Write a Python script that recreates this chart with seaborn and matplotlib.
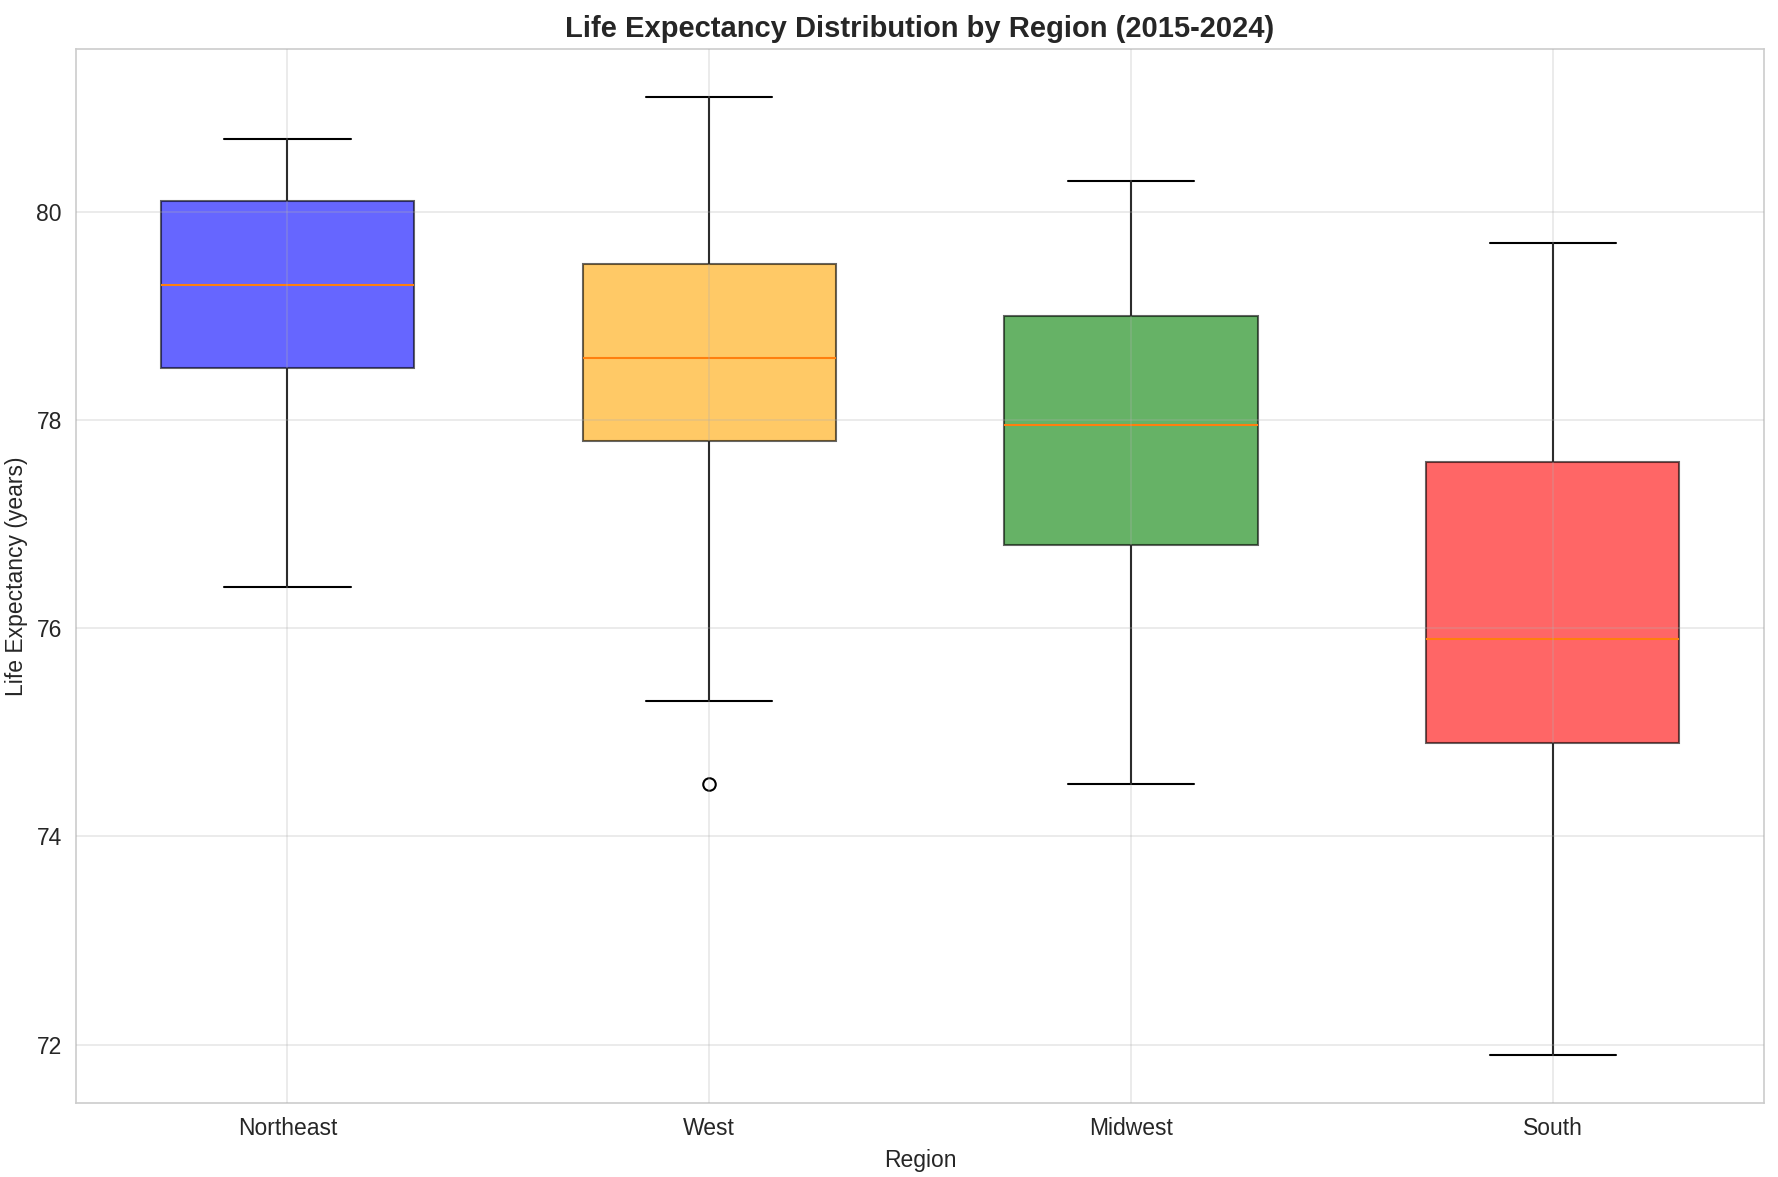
import numpy as np
import pandas as pd
import seaborn as sns
import matplotlib.pyplot as plt
from matplotlib.colors import to_rgba

# Life expectancy per region, 2015-2024
years = list(range(2015, 2025))
regions = ['Northeast', 'West', 'Midwest', 'South']
northeast = [76.4, 77.9, 78.4, 78.8, 79.1, 79.5, 79.8, 80.2, 80.5, 80.7]
west = [74.5, 75.3, 77.6, 78.4, 78.5, 78.7, 79.2, 79.6, 80.3, 81.1]
midwest = [74.5, 75.9, 76.6, 77.4, 77.8, 78.1, 78.4, 79.2, 79.6, 80.3]
south = [71.9, 73.8, 74.6, 75.8, 75.8, 76.0, 77.0, 77.8, 78.6, 79.7]
box_colors = ['blue', 'orange', 'green', 'red']

df = pd.DataFrame({
    'Region': np.repeat(regions, len(years)),
    'Year': years * len(regions),
    'Life Expectancy': northeast + west + midwest + south,
})

sns.set_style('whitegrid')
plt.rcParams['font.family'] = ['Liberation Sans', 'DejaVu Sans']

fig, ax = plt.subplots(figsize=(1778 / 150, 1177 / 150), dpi=150)

sns.boxplot(
    data=df, x='Region', y='Life Expectancy', hue='Region',
    order=regions, hue_order=regions,
    palette=dict(zip(regions, box_colors)),
    saturation=1, width=0.6, linewidth=1, legend=False,
    medianprops=dict(color='#ff7f0e', linewidth=1),
    whiskerprops=dict(color='black', linewidth=1),
    capprops=dict(color='black', linewidth=1),
    flierprops=dict(marker='o', markerfacecolor='none',
                    markeredgecolor='black', markersize=6),
    ax=ax,
)

# semi-transparent boxes with dark edges
for patch, c in zip(ax.patches, box_colors):
    patch.set_facecolor(to_rgba(c, 0.6))
    patch.set_edgecolor((0, 0, 0, 0.6))

ax.grid(True, alpha=0.3, color='#b0b0b0')
ax.set_axisbelow(False)
ax.margins(y=0.05)

ax.set_title('Life Expectancy Distribution by Region (2015-2024)',
             fontsize=14, fontweight='bold')
ax.set_xlabel('Region', fontsize=11)
ax.set_ylabel('Life Expectancy (years)', fontsize=11)
ax.tick_params(axis='both', labelsize=11)

fig.subplots_adjust(left=0.043, right=0.992, top=0.958, bottom=0.063)
fig.savefig('out.png', dpi=150)
